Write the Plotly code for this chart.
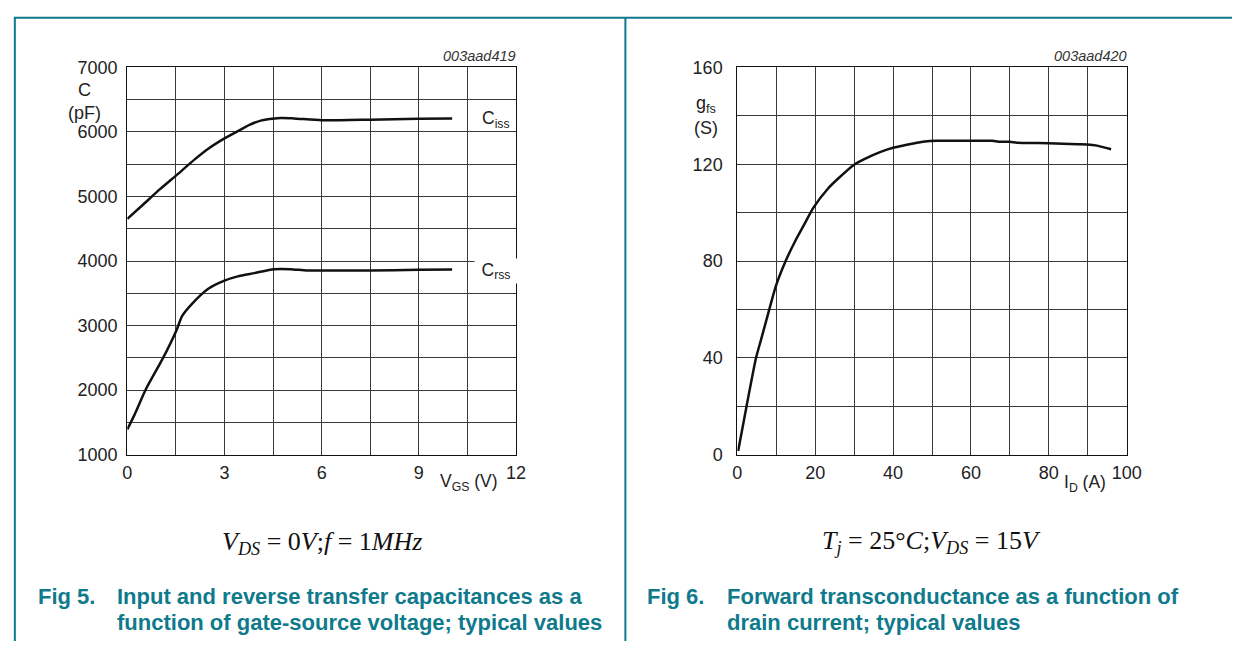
import plotly.graph_objects as go

W, H = 1247, 651

# Fig 5: capacitances vs gate-source voltage
vgs_ciss = [0, 0.5, 1.0, 1.52, 2.1, 2.5, 3.0, 3.4, 3.77, 4.12, 4.73, 5.13, 6.0, 7.5, 9.0, 10.03]
ciss = [4653, 4880, 5110, 5332, 5583, 5740, 5900, 6010, 6110, 6176, 6216, 6211, 6181, 6191, 6206, 6211]

vgs_crss = [0, 0.22, 0.58, 1.08, 1.52, 1.69, 1.99, 2.5, 3.0, 3.41, 3.92, 4.53, 5.03, 5.54, 6.0, 7.5, 9.0, 10.03]
crss = [1389, 1616, 2020, 2475, 2929, 3146, 3333, 3571, 3697, 3763, 3813, 3874, 3874, 3854, 3854, 3854, 3864, 3869]

# Fig 6: forward transconductance vs drain current
i_d = [0.2, 2.3, 4.8, 6.1, 8.2, 9.9, 12.4, 14.9, 17.4, 19.5, 23.3, 25.9, 29.9, 32.6, 36.8, 40.0,
       45.2, 48.2, 51.1, 60.0, 65.5, 67.1, 70.0, 71.8, 80.0, 87.4, 89.9, 92.4, 96.0]
g_fs = [1.5, 19.5, 40.0, 47.6, 60.0, 69.7, 80.0, 88.4, 95.8, 102.0, 110.0, 114.1, 119.7, 122.1, 125.1, 126.8,
        128.6, 129.4, 129.7, 129.7, 129.7, 129.3, 129.3, 128.9, 128.7, 128.3, 128.2, 127.7, 126.2]

# tick values
vgs_ticks = [0, 3, 6, 9, 12]
c_ticks = [1000, 2000, 3000, 4000, 5000, 6000, 7000]
id_ticks = [0, 20, 40, 60, 80, 100]
gfs_ticks = [0, 40, 80, 120, 160]

TEAL = "#0f7a8c"
SANS = "Liberation Sans, Arial, sans-serif"
SERIF = "Liberation Serif, Times New Roman, serif"


def px(x):
    return x / W


def py(y):
    return 1 - y / H


fig = go.Figure()
curve = dict(color="#111111", width=2.5, shape="spline", smoothing=0.6)
fig.add_trace(go.Scatter(x=vgs_ciss, y=ciss, mode="lines", line=curve, xaxis="x", yaxis="y", showlegend=False))
fig.add_trace(go.Scatter(x=vgs_crss, y=crss, mode="lines", line=curve, xaxis="x", yaxis="y", showlegend=False))
fig.add_trace(go.Scatter(x=i_d, y=g_fs, mode="lines", line=curve, xaxis="x2", yaxis="y2", showlegend=False))

grid = dict(showgrid=True, gridcolor="#3a3a3a", gridwidth=1, zeroline=False,
            showline=True, mirror=True, linecolor="#111111", linewidth=1.2,
            ticks="", tickfont=dict(family=SANS, size=18, color="#222222"))

fig.update_layout(
    width=W, height=H, margin=dict(l=0, r=0, t=0, b=0),
    paper_bgcolor="white", plot_bgcolor="white",
    xaxis=dict(domain=[px(124.3), px(519.3)], range=[0, 12], tickvals=vgs_ticks, anchor="y",
               ticklabelstandoff=2,
               minor=dict(dtick=1.5, showgrid=True, gridcolor="#3a3a3a", gridwidth=1), **grid),
    yaxis=dict(domain=[py(458.7), py(59.3)], range=[1000, 7000], tickvals=c_ticks, anchor="x",
               ticklabelstandoff=5,
               minor=dict(dtick=500, showgrid=True, gridcolor="#3a3a3a", gridwidth=1), **grid),
    xaxis2=dict(domain=[px(744.3), px(1140)], range=[0, 100], tickvals=id_ticks, anchor="y2",
                ticklabelstandoff=2,
                minor=dict(dtick=10, showgrid=True, gridcolor="#3a3a3a", gridwidth=1), **grid),
    yaxis2=dict(domain=[py(458.7), py(59.3)], range=[0, 160], tickvals=gfs_ticks, anchor="x2",
                ticklabelstandoff=10,
                minor=dict(dtick=20, showgrid=True, gridcolor="#3a3a3a", gridwidth=1), **grid),
)

# teal frame lines
frame = dict(color=TEAL, width=2)
fig.add_shape(type="line", xref="paper", yref="paper", x0=px(9), x1=1, y0=py(8), y1=py(8), line=frame)
fig.add_shape(type="line", xref="paper", yref="paper", x0=px(10), x1=px(10), y0=py(8), y1=0, line=frame)
fig.add_shape(type="line", xref="paper", yref="paper", x0=px(630.5), x1=px(630.5), y0=py(8), y1=0, line=frame)


def note(text, x, y, xanchor="center", size=17, family=SANS, color="#222222", **kw):
    fig.add_annotation(text=text, x=px(x), y=py(y), xref="paper", yref="paper",
                       xanchor=xanchor, yanchor="middle", showarrow=False,
                       font=dict(family=family, size=size, color=color), **kw)


# axis labels and figure ids, left chart
note("C", 81, 83, size=18)
note("(pF)", 81, 106, size=18)
note("<i>003aad419</i>", 521, 47, xanchor="right", size=14.5, color="#333333")
note("C<sub>iss</sub>", 499, 113, size=17.5)
note("C<sub>rss</sub>", 499, 269, size=17.5, bgcolor="white", width=42, height=24, borderpad=0)
note("V<sub>GS</sub> (V)", 472, 487, size=17.5)

# axis labels and figure ids, right chart
note("g<sub>fs</sub>", 712, 98, size=18)
note("(S)", 712, 122, size=18)
note("<i>003aad420</i>", 1142, 47, xanchor="right", size=14.5, color="#333333")
note("I<sub>D</sub> (A)", 1098, 488, size=17.5)

# measurement conditions
note("<i>V<sub>DS</sub></i> = 0<i>V</i>;<i>f</i> = 1<i>MHz</i>", 322, 550, size=26, family=SERIF, color="#111111")
note("<i>T<sub>j</sub></i> = 25°<i>C</i>;<i>V<sub>DS</sub></i> = 15<i>V</i>", 942, 549, size=26, family=SERIF, color="#111111")

# captions
note("<b>Fig 5.</b>", 31, 605, xanchor="left", size=22, color=TEAL)
note("<b>Input and reverse transfer capacitances as a</b>", 112, 605, xanchor="left", size=22, color=TEAL)
note("<b>function of gate-source voltage; typical values</b>", 112, 632, xanchor="left", size=22, color=TEAL)
note("<b>Fig 6.</b>", 650, 605, xanchor="left", size=22, color=TEAL)
note("<b>Forward transconductance as a function of</b>", 732, 605, xanchor="left", size=22, color=TEAL)
note("<b>drain current; typical values</b>", 732, 632, xanchor="left", size=22, color=TEAL)

fig.write_html("out.html")
